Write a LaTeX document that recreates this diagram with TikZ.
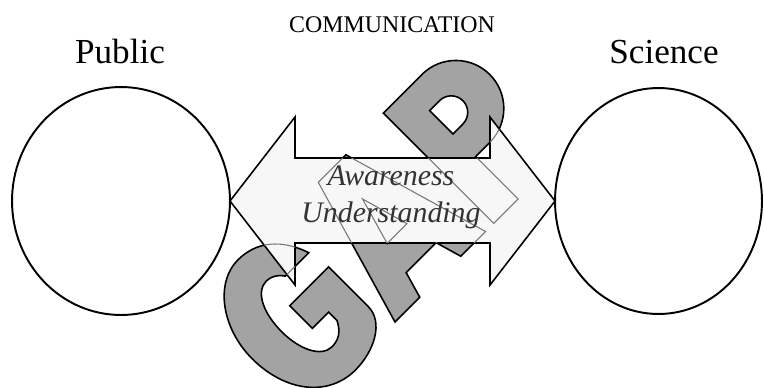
\documentclass[tikz,border=0pt]{standalone}
\usepackage{fontspec}
\setmainfont{Liberation Serif}
\usetikzlibrary{shapes.geometric, calc}

\definecolor{lettergray}{RGB}{163,163,163}
\definecolor{arrowfill}{RGB}{247,247,247}
\definecolor{seegray}{RGB}{118,118,118}

\tikzset{
  ring/.style={ellipse, draw, line width=1.1pt, fill=white, inner sep=0pt, outer sep=0pt},
  letter/.style={fill=lettergray, draw=black, line width=0.9pt, even odd rule, line join=miter},
  seethru/.style={draw=seegray, line width=0.6pt},
  bigarrow/.style={fill=arrowfill, draw=black, line width=0.9pt},
  lbl/.style={anchor=base, font=\fontsize{20}{24}\selectfont}
}

% G, A and P in an upright frame, baseline at 0
\newcommand{\gapletters}{%
  (-12,110) .. controls (-22,140) and (-42,155) .. (-67,155)
    .. controls (-100,155) and (-127,118) .. (-127,75)
    .. controls (-127,28) and (-100,-6) .. (-62,-6)
    .. controls (-35,-6) and (-8,8) .. (-8,30)
    -- (-8,86) -- (-63,86) -- (-63,54) -- (-40,54) -- (-40,42)
    .. controls (-45,32) and (-52,27) .. (-62,27)
    .. controls (-77,27) and (-87,48) .. (-87,73)
    .. controls (-87,100) and (-77,120) .. (-62,120)
    .. controls (-55,120) and (-49,116) .. (-45,110) -- cycle
  (0,0) -- (44.5,153) -- (83.5,153) -- (128,0) -- (93,0) -- (85.2,27)
    -- (42.8,27) -- (35,0) -- cycle
  (50,61) -- (78,61) -- (64,110) -- cycle
  (139.5,0) -- (139.5,156) -- (194,156) arc[start angle=90, end angle=-90, radius=48]
    -- (174,60) -- (174,0) -- cycle
  (174,92) -- (188,92) arc[start angle=-90, end angle=90, radius=16.5]
    -- (174,125) -- cycle}

% double headed block arrow, tip to tip
\newcommand{\gaparrow}{%
  (pub.east) -- ++(65,84) -- ++(0,-41) -- ++(195,0) -- ++(0,41) -- (sci.west)
  -- ++(-65,-84) -- ++(0,42) -- ++(-195,0) -- ++(0,-42) -- cycle}

\begin{document}
\begin{tikzpicture}[x=0.02cm, y=0.02cm]
\useasboundingbox (0,0) rectangle (764,387);

% the two sides
\node[ring, minimum width=4.36cm, minimum height=4.56cm] (pub) at (121,186) {};
\node[ring, minimum width=4.14cm, minimum height=4.52cm] (sci) at (658.5,186) {};

% GAP, turned by 45 degrees
\begin{scope}[shift={(395,65)}, rotate=45]
\path[letter] \gapletters;
\end{scope}

% arrow on top, letters show through it
\path[bigarrow] \gaparrow;
\begin{scope}
\clip \gaparrow;
\begin{scope}[shift={(395,65)}, rotate=45]
\path[seethru] \gapletters;
\end{scope}
\end{scope}

\draw (392,355) node[anchor=base, font=\fontsize{13.6}{16}\selectfont] (comm) {COMMUNICATION};
\draw (120,324) node[lbl] (publbl) {Public};
\draw (664,324) node[lbl] (scilbl) {Science};
\draw (391,202) node[anchor=base, text=black!80, font=\fontsize{17}{20}\selectfont\itshape] (aware) {Awareness};
\draw (391,165) node[anchor=base, text=black!80, font=\fontsize{17}{20}\selectfont\itshape] (under) {Understanding};
\end{tikzpicture}
\end{document}
